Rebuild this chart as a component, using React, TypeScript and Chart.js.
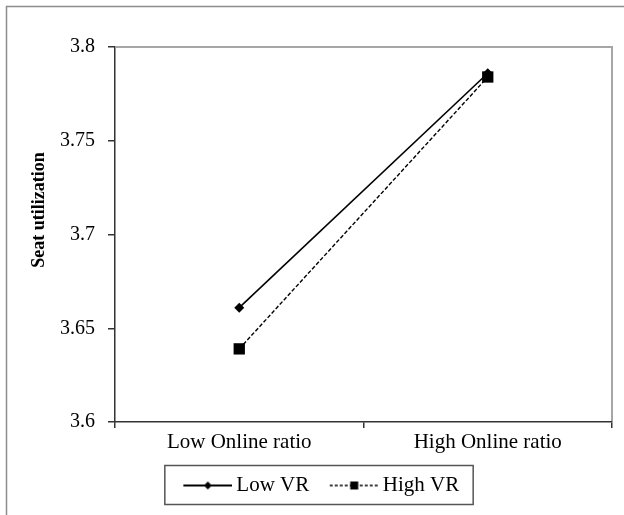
import React, { useEffect, useRef } from "react";
import { Chart, registerables } from "chart.js";
Chart.register(...registerables);

const categories = ["Low Online ratio", "High Online ratio"];
const seriesNames = ["Low VR", "High VR"];
const lowVR = [3.661, 3.786];
const highVR = [3.639, 3.784];
const yMin = 3.6;
const yMax = 3.8;
const yStep = 0.05;
const yTitle = "Seat utilization";

const FONT = "'Liberation Serif', 'Times New Roman', serif";

function legendImage(dashed: boolean, marker: "diamond" | "square") {
  const c = document.createElement("canvas");
  c.width = 66;
  c.height = 16;
  const ctx = c.getContext("2d")!;
  const m = 17;
  ctx.strokeStyle = "#000";
  ctx.lineWidth = dashed ? 1.5 : 1.8;
  if (dashed) ctx.setLineDash([3, 2]);
  ctx.beginPath();
  ctx.moveTo(m, 8);
  ctx.lineTo(66, 8);
  ctx.stroke();
  ctx.setLineDash([]);
  const cx = m + 24.5;
  ctx.fillStyle = "#000";
  if (marker === "diamond") {
    ctx.beginPath();
    ctx.moveTo(cx, 4);
    ctx.lineTo(cx + 4, 8);
    ctx.lineTo(cx, 12);
    ctx.lineTo(cx - 4, 8);
    ctx.closePath();
    ctx.fill();
  } else {
    ctx.fillRect(cx - 4, 4, 8, 8);
  }
  return c;
}

const framePlugin = {
  id: "frame",
  beforeDraw(chart: any) {
    const { ctx, width, height } = chart;
    ctx.save();
    ctx.fillStyle = "#fff";
    ctx.fillRect(0, 0, width, height);
    ctx.restore();
  },
  afterDraw(chart: any) {
    const { ctx, chartArea: a } = chart;
    ctx.save();
    // outer frame (cropped on right/bottom)
    ctx.strokeStyle = "#8c8c8c";
    ctx.lineWidth = 1.5;
    ctx.beginPath();
    ctx.moveTo(6.5, 515);
    ctx.lineTo(6.5, 6.5);
    ctx.lineTo(624, 6.5);
    ctx.stroke();
    // plot top/right border
    ctx.strokeStyle = "#a6a6a6";
    ctx.lineWidth = 2;
    ctx.beginPath();
    ctx.moveTo(a.left + 1, a.top);
    ctx.lineTo(a.right, a.top);
    ctx.lineTo(a.right, a.bottom - 1);
    ctx.stroke();
    // y title
    ctx.fillStyle = "#000";
    ctx.font = "bold 18px " + FONT;
    ctx.textAlign = "center";
    ctx.textBaseline = "middle";
    ctx.translate(39, 210);
    ctx.rotate(-Math.PI / 2);
    ctx.fillText(yTitle, 0, 0);
    ctx.restore();
    // legend border
    const lg = chart.legend;
    if (lg && lg.legendHitBoxes && lg.legendHitBoxes.length) {
      const hb = lg.legendHitBoxes;
      const first = hb[0];
      const last = hb[hb.length - 1];
      const left = first.left - 8;
      const right = last.left + last.width + 14;
      const cy = first.top + first.height / 2;
      ctx.save();
      ctx.strokeStyle = "#555";
      ctx.lineWidth = 1.5;
      ctx.strokeRect(left, cy - 20, right - left, 39);
      ctx.restore();
    }
  },
};

export default function App() {
  const ref = useRef<HTMLCanvasElement | null>(null);
  useEffect(() => {
    if (!ref.current) return;
    const imgs = [legendImage(false, "diamond"), legendImage(true, "square")];
    const chart = new Chart(ref.current, {
      type: "line",
      data: {
        labels: categories,
        datasets: [
          {
            label: seriesNames[0],
            data: lowVR,
            borderColor: "#000",
            borderWidth: 1.6,
            pointStyle: "rectRot",
            pointRadius: 5,
            pointBackgroundColor: "#000",
            pointBorderColor: "#000",
            pointBorderWidth: 0,
          },
          {
            label: seriesNames[1],
            data: highVR,
            borderColor: "#000",
            borderWidth: 1.4,
            borderDash: [4, 2],
            pointStyle: "rect",
            pointRadius: 8,
            pointBackgroundColor: "#000",
            pointBorderColor: "#000",
            pointBorderWidth: 0,
          },
        ],
      },
      options: {
        animation: false,
        responsive: false,
        devicePixelRatio: 1,
        layout: { padding: { left: 20, right: 12, top: 47, bottom: 9 } },
        plugins: {
          tooltip: { enabled: false },
          legend: {
            position: "bottom",
            labels: {
              usePointStyle: true,
              pointStyleWidth: 53,
              padding: 10,
              color: "#000",
              font: { family: FONT, size: 21 },
              generateLabels: () =>
                seriesNames.map((n, i) => ({
                  text: n,
                  pointStyle: imgs[i] as any,
                  fillStyle: "transparent",
                  strokeStyle: "transparent",
                  lineWidth: 0,
                  hidden: false,
                  datasetIndex: i,
                  fontColor: "#000",
                })),
            },
          },
        },
        scales: {
          x: {
            type: "category",
            offset: true,
            grid: {
              offset: true,
              drawOnChartArea: false,
              drawTicks: true,
              tickLength: 6,
              color: "#333",
              lineWidth: 1.5,
            },
            border: { color: "#333", width: 1.5 },
            ticks: { color: "#000", font: { family: FONT, size: 21 }, padding: 2, maxRotation: 0 },
            afterFit: (s: any) => {
              s.height = 43;
            },
          },
          y: {
            min: yMin,
            max: yMax,
            grid: {
              drawOnChartArea: false,
              drawTicks: true,
              tickLength: 7,
              color: "#333",
              lineWidth: 1.5,
            },
            border: { color: "#333", width: 1.5 },
            ticks: {
              stepSize: yStep,
              color: "#000",
              padding: 13,
              font: { family: FONT, size: 20 },
              callback: (v: any) => String(Number(Number(v).toFixed(2))),
            },
            afterFit: (s: any) => {
              s.width = 95;
            },
          },
        },
      },
      plugins: [framePlugin],
    });
    return () => chart.destroy();
  }, []);
  return (
    <div style={{ position: "absolute", left: 0, top: 0, width: 624, height: 515 }}>
      <canvas ref={ref} width={624} height={515} style={{ display: "block", width: 624, height: 515 }} />
    </div>
  );
}
